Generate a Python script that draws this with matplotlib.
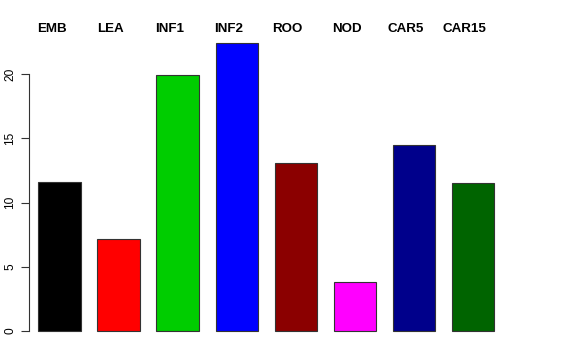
import numpy as np
from matplotlib import pyplot as plt
from matplotlib import transforms

plt.rcParams['font.family'] = ['Liberation Sans', 'DejaVu Sans']

tissues = ["EMB", "LEA", "INF1", "INF2", "ROO", "NOD", "CAR5", "CAR15"]
values = [11.6, 7.15, 19.9, 22.4, 13.05, 3.8, 14.5, 11.55]
colors = ["black", "red", "#00CD00", "blue", "#8B0000", "magenta", "#00008B", "#006400"]
yticks = [0, 5, 10, 15, 20]

W, H = 576, 360
fig = plt.figure(figsize=(W / 100, H / 100), dpi=100)

# pixel geometry
px_per_x = 42.17
px_per_y = 12.85
x0_px, x0_val = 59.5, 0.9
y0_px = 331
left_px, right_px, top_px, bottom_px = 28.7, 545, 31.6, 342.6

ax = fig.add_axes([left_px / W, 1 - bottom_px / H,
                   (right_px - left_px) / W, (bottom_px - top_px) / H])
ax.set_xlim(x0_val + (left_px - x0_px) / px_per_x,
            x0_val + (right_px - x0_px) / px_per_x)
ax.set_ylim((y0_px - bottom_px) / px_per_y, (y0_px - top_px) / px_per_y)

centers = 0.9 + 1.4 * np.arange(len(values))
ax.bar(centers, values, width=1.0, color=colors, edgecolor="#333333", linewidth=0.8)

# tissue names above the plot, slightly left of each bar
trans = transforms.blended_transform_factory(ax.transData, fig.transFigure)
for c, name in zip(centers, tissues):
    ax.text(c - 0.19, 1 - 29 / H, name, transform=trans,
            ha="center", va="center", fontsize=9.6, fontweight="bold")

for s in ["top", "right", "bottom"]:
    ax.spines[s].set_visible(False)
ax.spines["left"].set_bounds(0, 20)
ax.spines["left"].set_color("#333333")
ax.set_xticks([])
ax.set_yticks(yticks)
ax.set_yticklabels([str(t) for t in yticks], rotation=90, va="center", fontsize=8.6)
ax.tick_params(axis="y", length=5.8, width=0.8, pad=3, color="#333333")

fig.savefig("out.png", dpi=100)
